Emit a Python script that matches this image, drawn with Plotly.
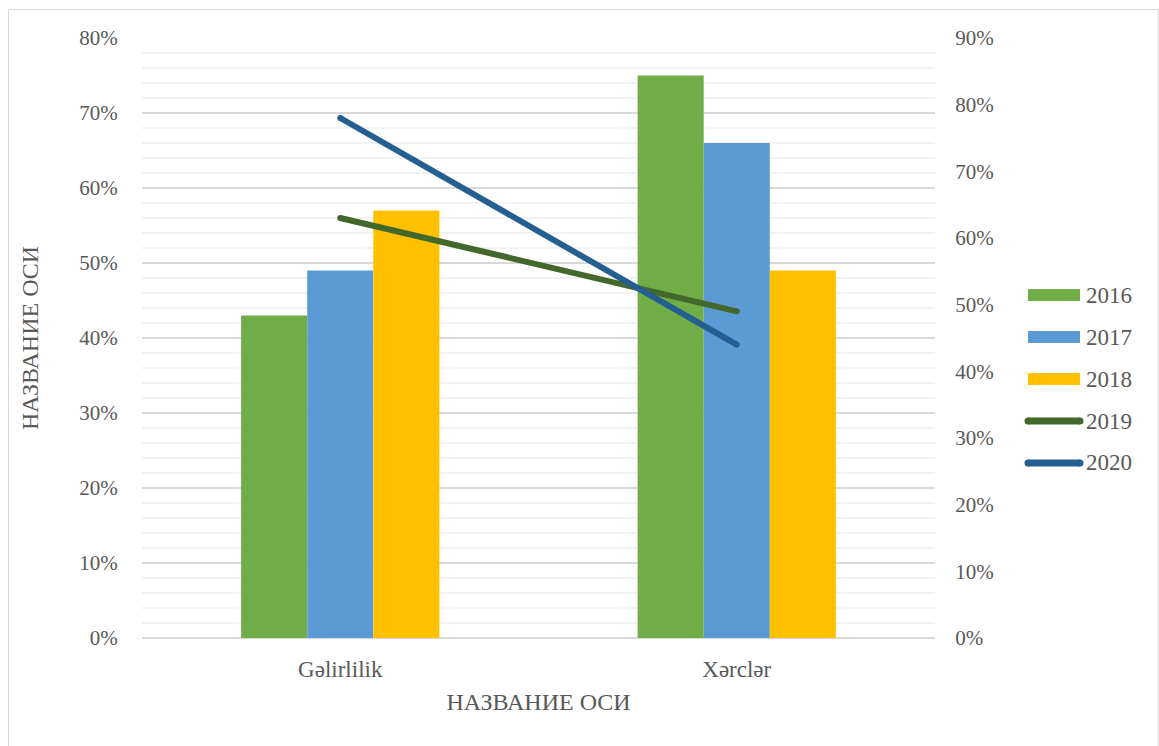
import plotly.graph_objects as go

# Data
categories = ["Gəlirlilik", "Xərclər"]
bar_years = ["2016", "2017", "2018"]
bar_values = {
    "2016": [0.43, 0.75],
    "2017": [0.49, 0.66],
    "2018": [0.57, 0.49],
}
line_years = ["2019", "2020"]
line_values = {
    "2019": [0.63, 0.49],
    "2020": [0.78, 0.44],
}

bar_colors = {"2016": "#70AD47", "2017": "#5B9BD5", "2018": "#FFC000"}
line_colors = {"2019": "#43682B", "2020": "#255E91"}

FONT = "Liberation Serif"
TXT = "#595959"

W, H = 1159, 746
L, R, T, B = 142, 224, 38, 108
PW, PH = W - L - R, H - T - B


def px(x):
    return (x - L) / PW


def py(y):
    return (H - B - y) / PH


fig = go.Figure()

for yr in bar_years:
    fig.add_trace(go.Bar(
        x=categories, y=bar_values[yr], name=yr,
        marker=dict(color=bar_colors[yr], line=dict(width=0)),
        showlegend=False,
    ))

for yr in line_years:
    fig.add_trace(go.Scatter(
        x=categories, y=line_values[yr], name=yr, yaxis="y2",
        mode="lines+markers",
        line=dict(color=line_colors[yr], width=6),
        marker=dict(color=line_colors[yr], size=6, line=dict(width=0)),
        showlegend=False,
    ))

# Legend drawn at the right side of the chart
shapes = []
annotations = []
legend_names = bar_years + line_years
for i, name in enumerate(legend_names):
    cy = 295 + 42 * i
    if name in bar_colors:
        shapes.append(dict(
            type="rect", xref="paper", yref="paper",
            x0=px(1028), x1=px(1080), y0=py(cy - 6), y1=py(cy + 6),
            fillcolor=bar_colors[name], line=dict(width=0),
        ))
    else:
        shapes.append(dict(
            type="line", xref="paper", yref="paper",
            x0=px(1028), x1=px(1080), y0=py(cy), y1=py(cy),
            line=dict(color=line_colors[name], width=7),
        ))
        for ex in (1028, 1080):
            shapes.append(dict(
                type="circle", xref="paper", yref="paper",
                x0=px(ex - 3.5), x1=px(ex + 3.5), y0=py(cy - 3.5), y1=py(cy + 3.5),
                fillcolor=line_colors[name], line=dict(width=0),
            ))
    annotations.append(dict(
        xref="paper", yref="paper", x=px(1084), y=py(cy),
        xanchor="left", yanchor="middle", showarrow=False,
        text=name, font=dict(family=FONT, size=23, color=TXT),
    ))

# Chart-area border
shapes.append(dict(
    type="rect", xref="paper", yref="paper", layer="below",
    x0=px(8.5), x1=px(1158), y0=py(9.5), y1=py(760),
    line=dict(color="#D9D9D9", width=1), fillcolor="rgba(0,0,0,0)",
))

fig.update_layout(
    width=W, height=H,
    margin=dict(l=L, r=R, t=T, b=B),
    paper_bgcolor="white", plot_bgcolor="white",
    barmode="group", bargap=0.5, bargroupgap=0,
    font=dict(family=FONT, size=21, color=TXT),
    showlegend=False,
    shapes=shapes,
    annotations=annotations,
    xaxis=dict(
        type="category",
        showgrid=False, showline=False, zeroline=False,
        ticks="outside", ticklen=10, tickcolor="rgba(0,0,0,0)",
        tickfont=dict(family=FONT, size=23, color=TXT),
        title=dict(text="НАЗВАНИЕ ОСИ", font=dict(family=FONT, size=24, color=TXT), standoff=12),
    ),
    yaxis=dict(
        range=[0, 0.8], dtick=0.1, tickformat=".0%",
        showgrid=True, gridcolor="#D9D9D9", gridwidth=1.5,
        zeroline=True, zerolinecolor="#D9D9D9", zerolinewidth=1.5,
        showline=False,
        ticks="outside", ticklen=19, tickcolor="rgba(0,0,0,0)",
        tickfont=dict(family=FONT, size=21, color=TXT),
        minor=dict(dtick=0.02, showgrid=True, gridcolor="#F2F2F2", gridwidth=1.5),
        title=dict(text="НАЗВАНИЕ ОСИ", font=dict(family=FONT, size=24, color=TXT), standoff=33),
    ),
    yaxis2=dict(
        overlaying="y", side="right",
        range=[0, 0.9], dtick=0.1, tickformat=".0%",
        showgrid=False, zeroline=False, showline=False,
        ticks="outside", ticklen=15, tickcolor="rgba(0,0,0,0)",
        tickfont=dict(family=FONT, size=21, color=TXT),
    ),
)

fig.write_html("out.html")
